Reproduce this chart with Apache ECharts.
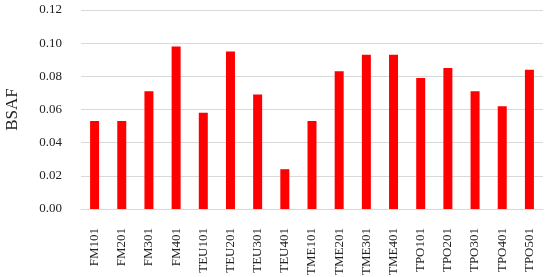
<!DOCTYPE html>
<html>
<head>
<meta charset="utf-8">
<script src="https://cdn.jsdelivr.net/npm/echarts@6/dist/echarts.min.js"></script>
<style>
  html, body { margin: 0; padding: 0; background: #fff; }
  #main { width: 550px; height: 277px; }
</style>
</head>
<body>
<div id="main"></div>
<script>
// 样点名称
var sites = ['FM101', 'FM201', 'FM301', 'FM401', 'TEU101', 'TEU201', 'TEU301', 'TEU401',
  'TME101', 'TME201', 'TME301', 'TME401', 'TPO101', 'TPO201', 'TPO301', 'TPO401', 'TPO501'];
// BSAF 值
var bsaf = [0.053, 0.053, 0.071, 0.098, 0.058, 0.095, 0.069, 0.024,
  0.053, 0.083, 0.093, 0.093, 0.079, 0.085, 0.071, 0.062, 0.084];
var yTicks = [0, 0.12, 0.02]; // min, max, interval

var myChart = echarts.init(document.getElementById('main'));
var font = '"Liberation Serif", "Times New Roman", serif';
var option = {
  backgroundColor: '#fff',
  animation: false,
  grid: { left: 81, right: 7, top: 10, bottom: 68, outerBoundsMode: 'none' },
  xAxis: {
    type: 'category',
    data: sites,
    axisLine: { lineStyle: { color: '#d9d9d9', width: 1 } },
    axisTick: { show: false },
    axisLabel: {
      rotate: 90,
      interval: 0,
      margin: 19,
      color: '#222',
      fontFamily: font,
      fontSize: 13
    }
  },
  yAxis: {
    type: 'value',
    name: 'BSAF',
    nameLocation: 'middle',
    nameGap: 60,
    nameTextStyle: { fontFamily: font, fontSize: 17, color: '#222' },
    min: yTicks[0],
    max: yTicks[1],
    interval: yTicks[2],
    axisLine: { show: false },
    axisTick: { show: false },
    splitLine: { lineStyle: { color: '#d9d9d9', width: 1 } },
    axisLabel: {
      margin: 19,
      color: '#222',
      fontFamily: font,
      fontSize: 13,
      formatter: function (v) { return v.toFixed(2); }
    }
  },
  series: [{
    type: 'bar',
    data: bsaf,
    barWidth: 9,
    itemStyle: { color: '#ff0000' }
  }]
};
myChart.setOption(option);
</script>
</body>
</html>
